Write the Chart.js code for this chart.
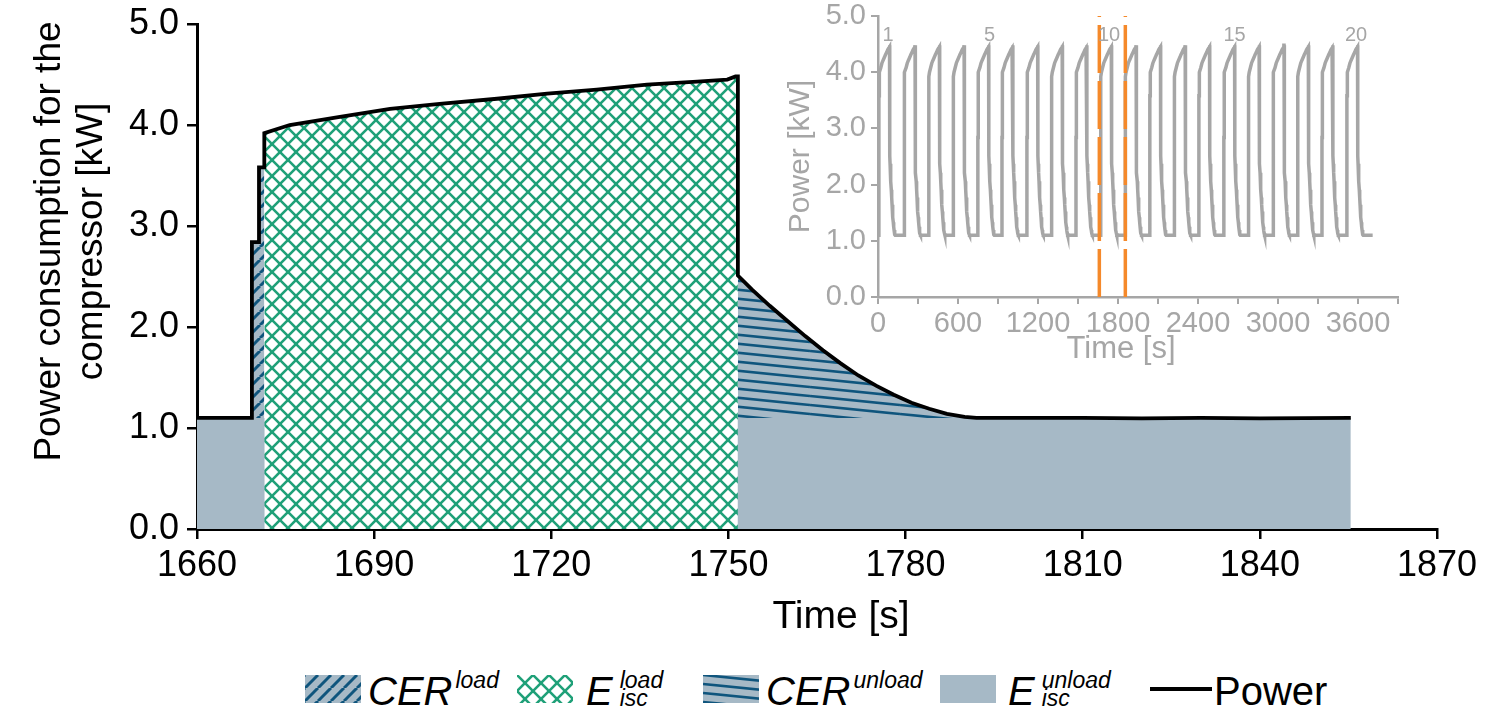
<!DOCTYPE html>
<html>
<head>
<meta charset="utf-8">
<script src="https://cdn.jsdelivr.net/npm/chart.js@4.4.1/dist/chart.umd.min.js"></script>
<style>
  body { margin: 0; background: #fff; }
  #wrap { position: relative; width: 1491px; height: 711px; overflow: hidden; font-family: "Liberation Sans", Arial, sans-serif; }
  #main { position: absolute; left: 0; top: 0; }
  #inset { position: absolute; left: 770px; top: 0; }
  .sw { position: absolute; }
  .lg { position: absolute; top: 671px; white-space: nowrap; font-size: 40px; line-height: 40px; color: #000; }
  .ss { display: inline-flex; flex-direction: column; font-size: 23px; line-height: 18px; position: relative; top: -17px; font-style: italic; }
</style>
</head>
<body>
<div id="wrap">
  <canvas id="main" width="1491" height="655"></canvas>
  <canvas id="inset" width="660" height="370"></canvas>
</div>
<script>
// --- main chart: cycle 10 ---
const powerTime = [1660, 1664, 1669.3, 1669.3, 1670.5, 1670.5, 1671.4, 1671.4, 1675.7, 1684.2,
  1692.7, 1701.1, 1710.8, 1719.3, 1727.7, 1736.2, 1744.7, 1749.8, 1751.2, 1751.6,
  1751.6, 1754, 1757, 1760, 1763, 1766, 1769, 1772, 1775, 1778,
  1781, 1784, 1787, 1790, 1792, 1800, 1810, 1820, 1830, 1840, 1855.4];
const powerKW = [1.10, 1.10, 1.10, 2.84, 2.84, 3.58, 3.58, 3.92, 4.00, 4.08,
  4.16, 4.21, 4.26, 4.31, 4.35, 4.40, 4.43, 4.45, 4.48, 4.48,
  2.51, 2.37, 2.21, 2.06, 1.91, 1.77, 1.64, 1.52, 1.42, 1.33,
  1.25, 1.19, 1.14, 1.11, 1.10, 1.10, 1.10, 1.095, 1.10, 1.095, 1.10];
const idleKW = 1.1;
// phase limits [s]
const cerLoadStart = 1669.3;
const loadStart = 1671.4;
const unloadStart = 1751.6;
const unloadEnd = 1792;

const xTitle = 'Time [s]';
const yTitle = ['Power consumption for the', 'compressor [kW]'];

// --- inset: 20 cycles ---
const cycleStart = [8, 198, 382, 566, 751, 932, 1119, 1303, 1487, 1671.4,
  1856, 2040, 2224, 2408, 2596, 2780, 2965, 3149, 3332, 3518];
const insetEnd = 3710;
const zoomWindow = [1660, 1855];
const cycleLabels = ['1', '5', '10', '15', '20'];
const cycleLabelTime = [75, 836, 1733, 2674, 3585];
const cycleLabelKW = 4.66;
const insetXTitle = 'Time [s]';
const insetYTitle = 'Power [kW]';

const FONT = '"Liberation Sans", Arial, sans-serif';
const GRAY_FILL = '#a6b9c6';
const BLUE = '#0f557d';
const GREEN = '#1fa078';
const INSET_GRAY = '#a6a6a6';
const ORANGE = '#f5892a';

// hatch patterns
function patCerLoad(ctx) {
  const s = 13, c = document.createElement('canvas');
  c.width = s; c.height = s;
  const g = c.getContext('2d');
  g.fillStyle = GRAY_FILL; g.fillRect(0, 0, s, s);
  g.strokeStyle = BLUE; g.lineWidth = 3;
  for (let k = -1; k <= 1; k++) {
    g.beginPath(); g.moveTo(k * s, s); g.lineTo(k * s + s, 0); g.stroke();
  }
  return ctx.createPattern(c, 'repeat');
}
function patLoad(ctx) {
  const s = 16, c = document.createElement('canvas');
  c.width = s; c.height = s;
  const g = c.getContext('2d');
  g.fillStyle = '#fff'; g.fillRect(0, 0, s, s);
  g.strokeStyle = GREEN; g.lineWidth = 2.6;
  for (let k = -1; k <= 1; k++) {
    g.beginPath(); g.moveTo(k * s, s); g.lineTo(k * s + s, 0); g.stroke();
    g.beginPath(); g.moveTo(k * s, 0); g.lineTo(k * s + s, s); g.stroke();
  }
  return ctx.createPattern(c, 'repeat');
}
function patCerUnload(ctx) {
  const w = 90, h = 9, c = document.createElement('canvas');
  c.width = w; c.height = h;
  const g = c.getContext('2d');
  g.fillStyle = GRAY_FILL; g.fillRect(0, 0, w, h);
  g.strokeStyle = BLUE; g.lineWidth = 2.7;
  for (let k = -1; k <= 1; k++) {
    g.beginPath(); g.moveTo(0, k * h); g.lineTo(w, k * h + h); g.stroke();
  }
  return ctx.createPattern(c, 'repeat');
}

// main chart
const mainCtx = document.getElementById('main').getContext('2d');
const pts = powerTime.map((t, i) => ({ x: t, y: powerKW[i] }));
const between = (a, b) => pts.filter(p => p.x >= a && p.x <= b);

const titlesPlugin = {
  id: 'titles',
  afterDraw(chart) {
    const { ctx, chartArea } = chart;
    ctx.save();
    ctx.fillStyle = '#000';
    ctx.textAlign = 'center';
    ctx.textBaseline = 'middle';
    ctx.font = '39px ' + FONT;
    ctx.fillText(xTitle, (chartArea.left + chartArea.right) / 2 + 24, chartArea.bottom + 88);
    ctx.font = '37px ' + FONT;
    ctx.translate(50, (chartArea.top + chartArea.bottom) / 2 - 35);
    ctx.rotate(-Math.PI / 2);
    yTitle.forEach((line, i) => ctx.fillText(line, 0, i * 42));
    ctx.restore();
  }
};

const noLine = { borderColor: 'transparent', borderWidth: 0, pointRadius: 0 };

new Chart(mainCtx, {
  type: 'line',
  data: {
    datasets: [
      { label: 'Power', data: pts, borderColor: '#000', borderWidth: 3.8, pointRadius: 0, fill: false, order: 0 },
      { label: 'CER load', data: between(cerLoadStart, loadStart), ...noLine, fill: { value: idleKW }, backgroundColor: patCerLoad(mainCtx), order: 1 },
      { label: 'CER unload', data: between(unloadStart, unloadEnd), ...noLine, fill: { value: idleKW }, backgroundColor: patCerUnload(mainCtx), order: 1 },
      { label: 'E isc load', data: between(loadStart, unloadStart), ...noLine, fill: 'origin', backgroundColor: patLoad(mainCtx), order: 2 },
      { label: 'E isc unload', data: [{ x: powerTime[0], y: idleKW }, { x: powerTime[powerTime.length - 1], y: idleKW }], ...noLine, fill: 'origin', backgroundColor: GRAY_FILL, order: 3 }
    ]
  },
  options: {
    responsive: false,
    animation: false,
    devicePixelRatio: 1,
    layout: { padding: { top: 24, right: 54, left: 0, bottom: 0 } },
    plugins: { legend: { display: false }, tooltip: { enabled: false } },
    scales: {
      x: {
        type: 'linear', min: 1660, max: 1870,
        ticks: { stepSize: 30, color: '#000', font: { size: 36, family: FONT }, padding: 5, maxRotation: 0, callback: v => String(v) },
        grid: { drawOnChartArea: false, color: '#000', lineWidth: 2.5, tickLength: 10 },
        border: { color: '#000', width: 3 },
        afterFit: s => { s.height = 126; }
      },
      y: {
        min: 0, max: 5,
        ticks: { stepSize: 1, color: '#000', font: { size: 36, family: FONT }, padding: 8, callback: v => v.toFixed(1) },
        grid: { drawOnChartArea: false, color: '#000', lineWidth: 2.5, tickLength: 10 },
        border: { color: '#000', width: 3 },
        afterFit: s => { s.width = 197; s.paddingTop = 0; s.paddingBottom = 0; }
      }
    }
  },
  plugins: [titlesPlugin]
});

// inset chart: every cycle repeats the measured cycle-10 profile at its own start time
const insetPts = [];
cycleStart.forEach(s => {
  powerTime.forEach((t, i) => {
    if (t >= cerLoadStart && t <= unloadEnd) {
      const tt = s + t - loadStart;
      if (tt >= 0) insetPts.push({ x: tt, y: powerKW[i] });
    }
  });
});
insetPts.push({ x: insetEnd, y: idleKW });

const insetTextPlugin = {
  id: 'insetText',
  afterDraw(chart) {
    const { ctx, scales, chartArea } = chart;
    ctx.save();
    ctx.fillStyle = INSET_GRAY;
    ctx.textAlign = 'center';
    ctx.textBaseline = 'middle';
    ctx.font = '20px ' + FONT;
    cycleLabels.forEach((txt, i) => {
      ctx.fillText(txt, scales.x.getPixelForValue(cycleLabelTime[i]), scales.y.getPixelForValue(cycleLabelKW));
    });
    ctx.font = '31px ' + FONT;
    ctx.fillText(insetXTitle, (chartArea.left + chartArea.right) / 2 - 17, chartArea.bottom + 52);
    ctx.font = '30px ' + FONT;
    ctx.translate(31, (chartArea.top + chartArea.bottom) / 2);
    ctx.rotate(-Math.PI / 2);
    ctx.fillText(insetYTitle, 0, 0);
    ctx.restore();
  }
};

const insetCtx = document.getElementById('inset').getContext('2d');
new Chart(insetCtx, {
  type: 'line',
  data: {
    datasets: [
      { data: insetPts, borderColor: INSET_GRAY, borderWidth: 3.5, pointRadius: 0, fill: false, order: 1 },
      { data: [{ x: zoomWindow[0], y: 0 }, { x: zoomWindow[0], y: 5 }], borderColor: ORANGE, borderWidth: 3.5, borderDash: [48, 8], pointRadius: 0, order: 0 },
      { data: [{ x: zoomWindow[1], y: 0 }, { x: zoomWindow[1], y: 5 }], borderColor: ORANGE, borderWidth: 3.5, borderDash: [48, 8], pointRadius: 0, order: 0 }
    ]
  },
  options: {
    responsive: false,
    animation: false,
    devicePixelRatio: 1,
    layout: { padding: { top: 16, right: 32, left: 0, bottom: 0 } },
    plugins: { legend: { display: false }, tooltip: { enabled: false } },
    scales: {
      x: {
        type: 'linear', min: 0, max: 3900,
        ticks: { stepSize: 300, autoSkip: false, maxRotation: 0, color: INSET_GRAY, font: { size: 29, family: FONT }, padding: 3,
          callback: v => (v % 600 === 0 ? String(v) : '') },
        grid: { drawOnChartArea: false, color: INSET_GRAY, lineWidth: 2, tickLength: 7 },
        border: { color: INSET_GRAY, width: 2.5 },
        afterFit: s => { s.height = 73; }
      },
      y: {
        min: 0, max: 5,
        ticks: { stepSize: 1, color: INSET_GRAY, font: { size: 29, family: FONT }, padding: 5, callback: v => v.toFixed(1) },
        grid: { drawOnChartArea: false, color: INSET_GRAY, lineWidth: 2, tickLength: 7 },
        border: { color: INSET_GRAY, width: 2.5 },
        afterFit: s => { s.width = 108; s.paddingTop = 0; s.paddingBottom = 0; }
      }
    }
  },
  plugins: [insetTextPlugin]
});

// legend (HTML, for the super/subscripts)
const legendItems = [
  { swatch: 'cerLoad', sx: 305, tx: 368, main: 'CER', sup: 'load', italic: true },
  { swatch: 'eLoad', sx: 517, tx: 586, main: 'E', sup: 'load', sub: 'isc', italic: true },
  { swatch: 'cerUnload', sx: 703, tx: 766, main: 'CER', sup: 'unload', italic: true },
  { swatch: 'eUnload', sx: 940, tx: 1008, main: 'E', sup: 'unload', sub: 'isc', italic: true },
  { swatch: 'line', sx: 1150, tx: 1214, main: 'Power', italic: false }
];
const wrap = document.getElementById('wrap');
legendItems.forEach(it => {
  const c = document.createElement('canvas');
  c.className = 'sw';
  if (it.swatch === 'line') {
    c.width = 62; c.height = 4;
    c.style.left = it.sx + 'px'; c.style.top = '687px';
    const g = c.getContext('2d');
    g.fillStyle = '#000'; g.fillRect(0, 0, 62, 4);
  } else {
    c.width = 56; c.height = 28;
    c.style.left = it.sx + 'px'; c.style.top = '675px';
    const g = c.getContext('2d');
    g.fillStyle = it.swatch === 'cerLoad' ? patCerLoad(g)
      : it.swatch === 'eLoad' ? patLoad(g)
      : it.swatch === 'cerUnload' ? patCerUnload(g) : GRAY_FILL;
    g.fillRect(0, 0, 56, 28);
  }
  wrap.appendChild(c);

  const t = document.createElement('div');
  t.className = 'lg';
  t.style.left = it.tx + 'px';
  const m = document.createElement('span');
  m.textContent = it.main;
  if (it.italic) m.style.fontStyle = 'italic';
  t.appendChild(m);
  if (it.sup) {
    const ss = document.createElement('span');
    ss.className = 'ss';
    ss.style.marginLeft = it.sub ? '7px' : '3px';
    const a = document.createElement('span'); a.textContent = it.sup; ss.appendChild(a);
    if (it.sub) { const b = document.createElement('span'); b.textContent = it.sub; ss.appendChild(b); }
    t.appendChild(ss);
  }
  wrap.appendChild(t);
});
</script>
</body>
</html>
